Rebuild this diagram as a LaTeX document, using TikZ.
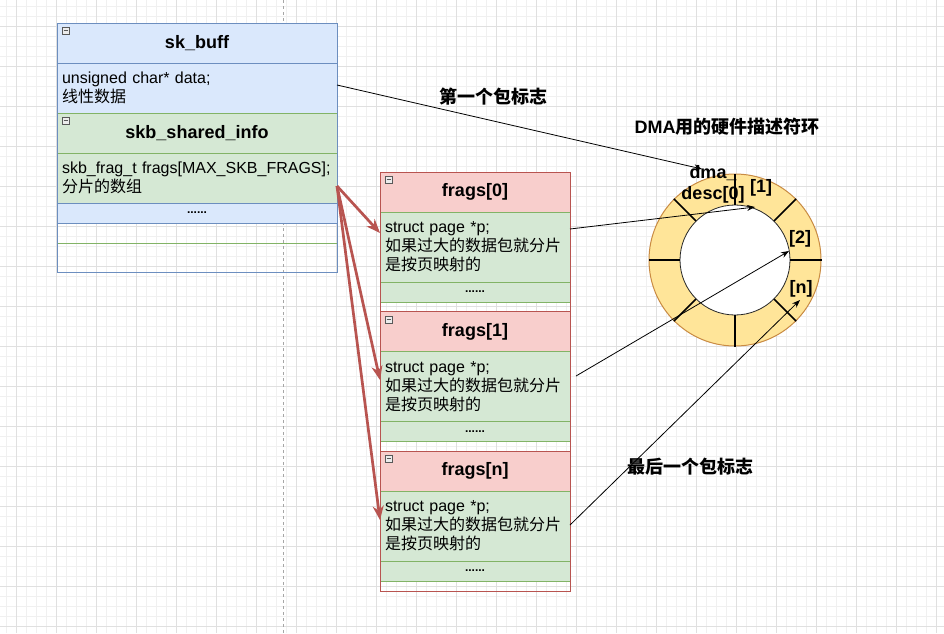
\documentclass[tikz,border=0pt]{standalone}
\usepackage{fontspec}
\setmainfont{Liberation Sans}
\newfontfamily\cjk{Noto Sans CJK SC}
\usetikzlibrary{arrows.meta,positioning}
\definecolor{lightblue}{HTML}{DAE8FC}
\definecolor{blueline}{HTML}{6C8EBF}
\definecolor{lightgreen}{HTML}{D5E8D4}
\definecolor{greenline}{HTML}{82B366}
\definecolor{lightred}{HTML}{F8CECC}
\definecolor{redline}{HTML}{B85450}
\definecolor{ringfill}{HTML}{FFE599}
\definecolor{ringline}{HTML}{C98B43}
\newcommand{\Hd}[1]{{\fontsize{18pt}{21pt}\selectfont\bfseries #1}}
\newcommand{\Txt}{\fontsize{16pt}{19pt}\selectfont}
\newcommand{\Dots}{{\fontsize{12pt}{14pt}\selectfont\bfseries ......}}

\begin{document}
\begin{tikzpicture}[x=1pt,y=-1pt,
  skcell/.style={minimum width=280pt,inner sep=0pt,outer sep=0pt},
  frcell/.style={minimum width=190pt,inner sep=0pt,outer sep=0pt},
  bluebox/.style={draw=blueline,fill=lightblue},
  greenbox/.style={draw=greenline,fill=lightgreen},
  redbox/.style={draw=redline,fill=lightred},
  rowtext/.style={align=left,inner xsep=5pt,font=\Txt},
  minusicon/.style={draw=gray!70!black,fill=gray!15,minimum size=7pt,inner sep=0pt,
    path picture={\draw[line width=0.8pt] ([xshift=1.5pt]path picture bounding box.west)
      -- ([xshift=-1.5pt]path picture bounding box.east);}},
  ptr/.style={-{Stealth[length=8pt,width=6pt]},line width=0.8pt,black},
  fragarrow/.style={-{Stealth[length=14pt,width=11pt]},line width=2.7pt,redline},
  segline/.style={line width=1.6pt,black},
  minorgrid/.style={black!6,line width=0.6pt},
  majorgrid/.style={black!12,line width=0.8pt}]
\useasboundingbox (0,0) rectangle (944,633);
% background grid
\fill[white] (0,0) rectangle (944,633);
\foreach \g in {0,...,94} \draw[minorgrid] (6.7+10*\g,0) -- (6.7+10*\g,633);
\foreach \g in {0,...,63} \draw[minorgrid] (0,6.7+10*\g) -- (944,6.7+10*\g);
\foreach \g in {0,...,23} \draw[majorgrid] (16.7+40*\g,0) -- (16.7+40*\g,633);
\foreach \g in {0,...,15} \draw[majorgrid] (0,26.7+40*\g) -- (944,26.7+40*\g);
\draw[black!35,dashed,line width=0.8pt] (283,0) -- (283,633);
%
% sk_buff
\node (skhead) [skcell,bluebox,minimum height=40pt] at (197,43) {\Hd{sk\_buff}};
\node (skdata) [skcell,bluebox,rowtext,text width=270pt,minimum height=50pt] at (197,88)
  {unsigned char* data;\\{\cjk 线性数据}};
\node (shhead) [skcell,greenbox,minimum height=40pt] at (197,133) {\Hd{skb\_shared\_info}};
\node (shfrags) [skcell,greenbox,rowtext,text width=270pt,minimum height=50pt] at (197,178)
  {skb\_frag\_t~frags[MAX\_SKB\_FRAGS];\\{\cjk 分片的数组}};
\node (skdots) [skcell,bluebox,minimum height=20pt] at (197,213) {\Dots};
\draw[greenline,line width=0.8pt] (shhead.north west) rectangle ([yshift=-20pt]skdots.south east);
\draw[blueline,line width=0.8pt] (skhead.north west) rectangle ([yshift=-49pt]skdots.south east);
\node (m1) [minusicon,anchor=north west] at ([xshift=5pt,yshift=-4pt]skhead.north west) {};
\node (m2) [minusicon,anchor=north west] at ([xshift=5pt,yshift=-4pt]shhead.north west) {};
%
% frags[]
\foreach \i/\lab/\y in {0/0/172,1/1/311.5,n/n/451}{
  \node (fh\i) [frcell,redbox,minimum height=40pt] at (475,\y+20) {\Hd{frags[\lab]}};
  \node (fr\i) [frcell,greenbox,rowtext,text width=180pt,minimum height=70pt] at (475,\y+75)
    {struct page *p;\\{\cjk 如果过大的数据包就分片}\\{\cjk 是按页映射的}};
  \node (fd\i) [frcell,greenbox,minimum height=20pt] at (475,\y+120) {\Dots};
  \draw[redline,line width=0.8pt] (fh\i.north west) rectangle ([yshift=-10pt]fd\i.south east);
  \node (mf\i) [minusicon,anchor=north west] at ([xshift=5pt,yshift=-4pt]fh\i.north west) {};
}
%
% descriptor ring
\node (ring) [circle,draw=ringline,fill=ringfill,line width=1pt,minimum size=172pt,inner sep=0pt] at (735,260) {};
\node (hole) [circle,draw=black!85,fill=white,line width=0.8pt,minimum size=110pt,inner sep=0pt] at (ring.center) {};
\foreach \a in {0,45,...,315} \draw[segline] (hole.\a) -- (ring.\a);
\node (dma0) [align=center,font=\fontsize{18pt}{21pt}\selectfont\bfseries] at (713,184) {dma\textunderscore\\desc[0]};
\node (dma1) at (761,188) {\Hd{[1]}};
\node (dma2) at (800,239) {\Hd{[2]}};
\node (dman) at (801,289) {\Hd{[n]}};
%
\node (firstlab) at (493,97) {\Hd{\cjk 第一个包标志}};
\node (ringlab) at (727,127) {\Hd{DMA{\cjk 用的硬件描述符环}}};
\node (lastlab) at (690,467) {\Hd{\cjk 最后一个包标志}};
%
\coordinate (d0) at (702,169);
\coordinate (d1) at (755,207);
\coordinate (d2) at (789,251);
\coordinate (dn) at (800,300);
\path[ptr] ([yshift=3pt]skdata.east) edge (d0);
\path[ptr] ([yshift=18pt]fr0.east) edge (d1);
\path[ptr] ([xshift=6pt,yshift=10.5pt]fr1.east) edge (d2);
\path[ptr] ([yshift=1pt]frn.east) edge (dn);
%
\path[fragarrow] ([yshift=-8pt]shfrags.east) edge ([yshift=14pt]fr0.west);
\path[fragarrow] ([yshift=-8pt]shfrags.east) edge ([yshift=6.5pt]fr1.west);
\path[fragarrow] ([yshift=-8pt]shfrags.east) edge ([yshift=6pt]frn.west);
\end{tikzpicture}
\end{document}
